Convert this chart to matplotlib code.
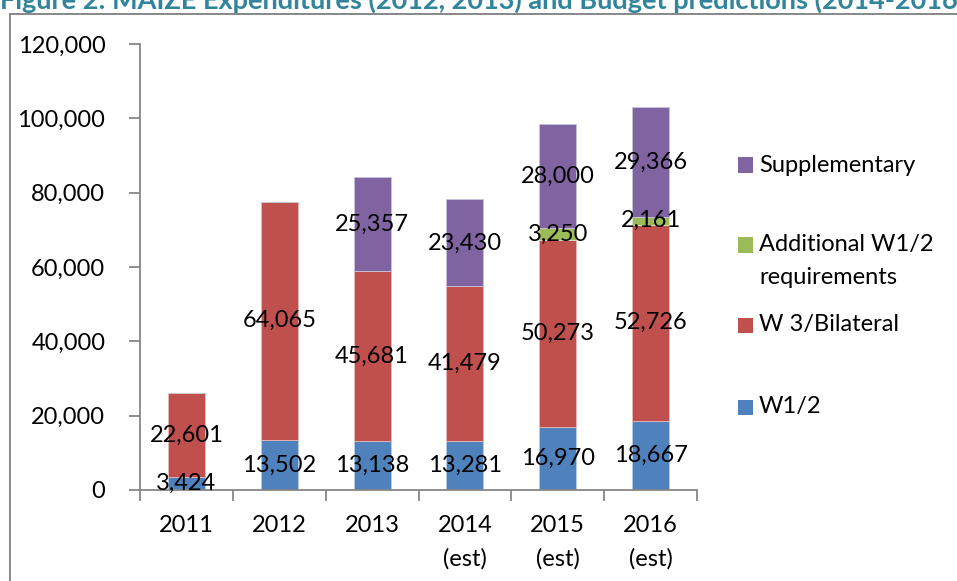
import matplotlib
matplotlib.use("Agg")
import matplotlib.pyplot as plt
from matplotlib.patches import Rectangle
import numpy as np

plt.rcParams['font.family'] = ['Lato', 'DejaVu Sans']

categories = ["2011", "2012", "2013", "2014\n(est)", "2015\n(est)", "2016\n(est)"]
series_names = ["W1/2", "W 3/Bilateral", "Additional W1/2\nrequirements", "Supplementary"]
w12 = [3424, 13502, 13138, 13281, 16970, 18667]
w3_bilateral = [22601, 64065, 45681, 41479, 50273, 52726]
additional_w12 = [0, 0, 0, 0, 3250, 2161]
supplementary = [0, 0, 25357, 23430, 28000, 29366]
yticks = [0, 20000, 40000, 60000, 80000, 100000, 120000]

series = [w12, w3_bilateral, additional_w12, supplementary]
colors = ["#4F81BD", "#C0504D", "#9BBB59", "#8064A2"]
edges = ["#B9CDE5", "#E6B9B8", "#D7E4BD", "#CCC1DA"]

W, H = 957, 581
fig = plt.figure(figsize=(W / 100, H / 100), dpi=100)
ax = fig.add_axes([140 / W, 1 - 490 / H, (697 - 140) / W, (490 - 44) / H])

x = np.arange(len(categories))
bottom = np.zeros(len(categories))
FS = 17
for vals, c, ec in zip(series, colors, edges):
    v = np.array(vals, dtype=float)
    ax.bar(x, v, width=0.4, bottom=bottom, color=c, edgecolor=ec, linewidth=0.6, zorder=2)
    for xi, b, val in zip(x, bottom, v):
        if val > 0:
            ax.text(xi, b + val / 2, f"{int(val):,}", ha='center', va='center',
                    fontsize=FS, color='black', zorder=5)
    bottom += v

ax.set_xlim(-0.5, len(categories) - 0.5)
ax.set_ylim(0, 120000)
ax.set_yticks(yticks)
ax.set_yticklabels([f"{t:,}" for t in yticks])
ax.set_xticks(np.arange(len(categories) + 1) - 0.5, minor=False)
ax.set_xticklabels([])
ax.set_xticks(x, minor=True)
ax.set_xticklabels(categories, minor=True, linespacing=1.7)
ax.tick_params(axis='x', which='major', direction='out', length=8, width=1.3, color='#868686')
ax.tick_params(axis='x', which='minor', length=0, pad=18, labelsize=FS)
ax.tick_params(axis='y', direction='out', length=8, width=1.3, color='#868686', pad=17, labelsize=FS)
for s in ['top', 'right']:
    ax.spines[s].set_visible(False)
for s in ['left', 'bottom']:
    ax.spines[s].set_color('#868686')
    ax.spines[s].set_linewidth(1.3)

# Outer chart border (clipped on right and bottom)
fig.patches.append(Rectangle((10 / W, -0.05), 1.2, 1.05 - 14 / H, transform=fig.transFigure,
                             fill=False, edgecolor='#878787', linewidth=1.4, zorder=0))

# Title (clipped at top, as in the source)
fig.text(0, 1 - 8.5 / H, "Figure 2: MAIZE Expenditures (2012, 2013) and Budget predictions (2014-2016)",
         fontsize=19.5, fontweight='bold', color='#31849B', ha='left', va='baseline')

# Legend (manual, reversed order)
leg_y = [407, 325, 245, 165]
for name, c, yc in zip(series_names, colors, leg_y):
    fig.patches.append(Rectangle((738 / W, 1 - (yc + 7.5) / H), 15 / W, 15 / H,
                                 transform=fig.transFigure, facecolor=c, edgecolor='none'))
    first, *rest = name.split("\n")
    fig.text(759 / W, 1 - yc / H, first, fontsize=FS, va='center', ha='left')
    for i, r in enumerate(rest):
        fig.text(759 / W, 1 - (yc + 32 * (i + 1)) / H, r, fontsize=FS, va='center', ha='left')

fig.savefig("out.png", dpi=100)
